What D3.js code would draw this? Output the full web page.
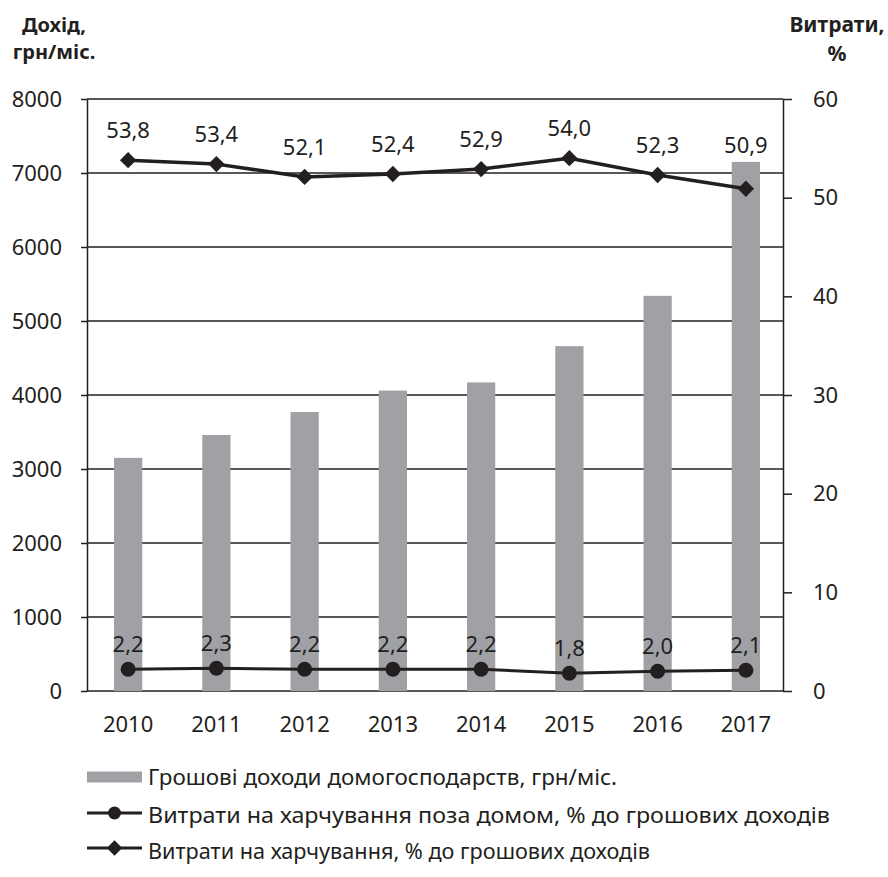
<!DOCTYPE html>
<html>
<head>
<meta charset="utf-8">
<script src="https://cdn.jsdelivr.net/npm/d3@7/dist/d3.min.js"></script>
<style>
	body { margin: 0; background: #fff; }
	svg text { font-family: "Noto Sans", "Open Sans", sans-serif; fill: #231f20; }
	.axis path, .axis line { stroke: #231f20; stroke-width: 1.5; }
	.grid line { stroke: #231f20; stroke-width: 1.5; }
</style>
</head>
<body>
<div id="chart"></div>
<script>
// data
var years       = ['2010', '2011', '2012', '2013', '2014', '2015', '2016', '2017'];
var income      = [3150, 3460, 3770, 4060, 4170, 4660, 5340, 7150];   // грн/міс.
var foodShare   = [53.8, 53.4, 52.1, 52.4, 52.9, 54.0, 52.3, 50.9];  // %
var outsideFood = [2.2, 2.3, 2.2, 2.2, 2.2, 1.8, 2.0, 2.1];          // %
var leftTicks   = [0, 1000, 2000, 3000, 4000, 5000, 6000, 7000, 8000];
var rightTicks  = [0, 10, 20, 30, 40, 50, 60];
var legendNames = [
	'Грошові доходи домогосподарств, грн/міс.',
	'Витрати на харчування поза домом, % до грошових доходів',
	'Витрати на харчування, % до грошових доходів'
];

var width = 888, height = 877;
var margin = {top: 99, right: 105, bottom: 186, left: 87};
var plotW = width - margin.left - margin.right,   // 696
	plotH = height - margin.top - margin.bottom;  // 592

var barColor = '#a0a1a5', ink = '#231f20';

var svg = d3.select('#chart').append('svg')
	.attr('width', width)
	.attr('height', height);

var vis = svg.append('g')
	.attr('transform', 'translate(' + margin.left + ',' + margin.top + ')');

// scales
var x = d3.scaleBand()
	.domain(years)
	.range([-3, plotW + 7])
	.paddingInner(0.68)
	.paddingOuter(0.34);

var yLeft = d3.scaleLinear().domain([0, 8000]).range([plotH, 0]);
var yRight = d3.scaleLinear().domain([0, 60]).range([plotH, 0]);

var cx = function(d, i) { return x(years[i]) + x.bandwidth() / 2; };

// gridlines
vis.append('g')
	.attr('class', 'grid')
	.selectAll('line')
	.data(leftTicks)
	.enter().append('line')
	.attr('x1', 0)
	.attr('x2', plotW)
	.attr('y1', function(d) { return yLeft(d); })
	.attr('y2', function(d) { return yLeft(d); });

// bars
vis.append('g')
	.selectAll('rect')
	.data(income)
	.enter().append('rect')
	.attr('x', function(d, i) { return x(years[i]); })
	.attr('width', x.bandwidth())
	.attr('y', function(d) { return yLeft(d); })
	.attr('height', function(d) { return plotH - yLeft(d); })
	.attr('fill', barColor);

// axes
var leftAxis = vis.append('g')
	.attr('class', 'axis')
	.call(d3.axisLeft(yLeft).tickValues(leftTicks).tickFormat(d3.format('d'))
		.tickSize(6).tickPadding(19).tickSizeOuter(0));
leftAxis.selectAll('text').style('font-size', '22px');

var rightAxis = vis.append('g')
	.attr('class', 'axis')
	.attr('transform', 'translate(' + plotW + ',0)')
	.call(d3.axisRight(yRight).tickValues(rightTicks).tickSize(9).tickPadding(21).tickSizeOuter(0));
rightAxis.selectAll('text').style('font-size', '22px');

// year labels
vis.append('g')
	.selectAll('text')
	.data(years)
	.enter().append('text')
	.attr('x', function(d) { return x(d) + x.bandwidth() / 2; })
	.attr('y', plotH + 41)
	.attr('text-anchor', 'middle')
	.style('font-size', '22px')
	.text(function(d) { return d; });

// lines
var fmt = function(v) { return v.toFixed(1).replace('.', ','); };
var diamond = d3.symbol().type(d3.symbolDiamond2).size(170);

function drawSeries(values, marker, strokeW, labelDy, avoidBars) {
	var line = d3.line()
		.x(cx)
		.y(function(d) { return yRight(d); });
	var g = vis.append('g');
	g.append('path')
		.attr('d', line(values))
		.attr('fill', 'none')
		.attr('stroke', ink)
		.attr('stroke-width', strokeW)
		.attr('stroke-linejoin', 'round');
	if (marker === 'circle') {
		g.selectAll('circle')
			.data(values)
			.enter().append('circle')
			.attr('cx', cx)
			.attr('cy', function(d) { return yRight(d); })
			.attr('r', 7.5)
			.attr('fill', ink);
	} else {
		g.selectAll('path.mk')
			.data(values)
			.enter().append('path')
			.attr('class', 'mk')
			.attr('d', diamond)
			.attr('transform', function(d, i) { return 'translate(' + cx(d, i) + ',' + yRight(d) + ')'; })
			.attr('fill', ink);
	}
	g.selectAll('text')
		.data(values)
		.enter().append('text')
		.attr('x', cx)
		.attr('y', function(d, i) {
			var yy = yRight(d) + labelDy;
			if (!avoidBars) return yy;
			// keep the label above a bar that reaches up to it
			return Math.min(yy, yLeft(income[i]) - 9);
		})
		.attr('text-anchor', 'middle')
		.style('font-size', '22px')
		.text(fmt);
}

drawSeries(outsideFood, 'circle', 3, -17, false);
drawSeries(foodShare, 'diamond', 3.5, -22, true);

// axis titles
var titleL = svg.append('text')
	.attr('text-anchor', 'middle')
	.style('font-size', '20px')
	.style('font-weight', 'bold');
titleL.append('tspan').attr('x', 54).attr('y', 32).text('Дохід,');
titleL.append('tspan').attr('x', 54).attr('y', 59).text('грн/міс.');

var titleR = svg.append('text')
	.attr('text-anchor', 'middle')
	.style('font-size', '21px')
	.style('font-weight', 'bold');
titleR.append('tspan').attr('x', 837).attr('y', 32).text('Витрати,');
titleR.append('tspan').attr('x', 837).attr('y', 61).text('%');

// legend
var legend = svg.append('g').attr('transform', 'translate(87,0)');
var rows = [777, 813, 848],
	baselines = [785, 823, 859];

legend.append('rect')
	.attr('x', 0).attr('y', rows[0] - 5.5)
	.attr('width', 55).attr('height', 11)
	.attr('fill', barColor);

[1, 2].forEach(function(k) {
	legend.append('line')
		.attr('x1', 0).attr('x2', 55)
		.attr('y1', rows[k]).attr('y2', rows[k])
		.attr('stroke', ink)
		.attr('stroke-width', 3);
});
legend.append('circle')
	.attr('cx', 27.5).attr('cy', rows[1]).attr('r', 6.5).attr('fill', ink);
legend.append('path')
	.attr('d', d3.symbol().type(d3.symbolDiamond2).size(150))
	.attr('transform', 'translate(27.5,' + rows[2] + ')')
	.attr('fill', ink);

legend.selectAll('text.lg')
	.data(legendNames)
	.enter().append('text')
	.attr('class', 'lg')
	.attr('x', 61)
	.attr('y', function(d, i) { return baselines[i]; })
	.style('font-size', '22px')
	.attr('textLength', function(d, i) { return [469, 682, 502][i]; })
	.attr('lengthAdjust', 'spacingAndGlyphs')
	.text(function(d) { return d; });
</script>
</body>
</html>
